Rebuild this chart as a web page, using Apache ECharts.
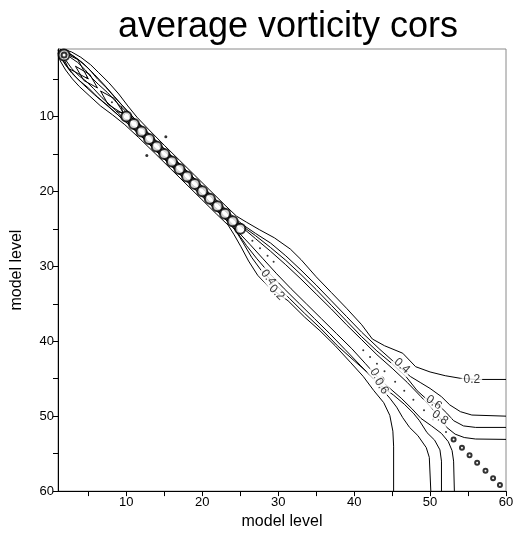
<!DOCTYPE html>
<html>
<head>
<meta charset="utf-8">
<title>average vorticity cors</title>
<script src="https://cdn.jsdelivr.net/npm/echarts@6/dist/echarts.min.js"></script>
<style>
html, body { margin: 0; padding: 0; background: #fff; }
#main { width: 520px; height: 535px; }
</style>
</head>
<body>
<div id="main"></div>
<script>
// contour lines, as [x level, y level]
// "up" = right of the diagonal, "lo" = left of it
var up02 = [[1.6,1],[2.8,1.4],[4,2.1],[5.3,3.1],[6.3,4.1],[7.7,5.5],[9,7],[10.2,8.6],[11.4,10.1],[13,11.8],[15,13.85],[17,15.85],[19,17.85],[21,19.85],[23,21.85],[24.5,23.3],
  [25.8,24.1],[27.5,25.1],[29.5,26.2],[31.6,27.7],[33,29.1],[35,31.4],[37,33.5],[39,35.6],[41,37.8],[42.4,39.7],[44,40.6],[46.4,41.6],[48.1,43.4],[50,44.1],[52,44.6],[54,44.95],[56,45.1],[60,45.1]];
var up04 = [[1.2,1],[2.3,1.5],[3.5,2.3],[4.8,3.4],[5.8,4.4],[7.1,5.8],[8.4,7.3],[9.7,8.8],[11,10.2],[12.6,11.9],[14.5,13.8],[16.5,15.8],[18.5,17.8],[20.5,19.8],[22.5,21.8],[24.2,23.5],
  [25.4,24.5],[27,25.6],[29,26.9],[31,28.6],[33,30.5],[35,32.5],[37,34.6],[39,36.7],[41,38.8],[43.4,41.1],[45.4,42.9],[47.4,44.7],[48.7,45.5],[50,46.3],[51.5,47.4],[52.6,48.5],[54,49.4],[55.5,49.85],[60,50]];
var up06 = [[2,1.3],[3,1.9],[4.2,2.8],[5.2,3.8],[6.2,5],[7.4,6.2],[8.6,7.6],[9.8,8.9],[11,10.3],[12.7,12.1],[14.6,14],[16.6,16],[18.6,18],[20.6,20],[22.6,22],[24.2,23.7],
  [25.5,24.8],[27,25.9],[29,27.5],[31,29.2],[33,31.1],[35,33.1],[37,35.2],[39,37.3],[41,39.4],[43,41.3],[45,43],[46.9,44.8],[48.3,46.6],[49.4,47.6],[50.4,48.2],[51.4,48.8],[52.2,49.6],[53.1,50.6],[54.4,51.3],[56,51.5],[60,51.5]];
var up08 = [[2.6,2.1],[3.6,2.8],[4.6,3.8],[5.3,4.7],[6.3,5.7],[7.5,6.8],[8.7,8.1],[9.9,9.3],[11.2,10.7],[12.8,12.3],[14.5,14.1],[16.5,16.1],[18.5,18.1],[20.5,20.1],[22.5,22.1],[24.3,23.9],
  [25.6,25.1],[27,26.3],[29,28],[31,29.8],[33,31.7],[35,33.7],[37,35.7],[39,37.8],[41,39.8],[43,41.8],[45,43.6],[47,45.5],[48.8,47.4],[50.2,48.9],[51.3,50.2],[52.2,51.5],[53.3,52.4],[54.5,52.85],[56,53.05],[60,53.1]];

var lo02 = [[1,1.5],[1.3,2.6],[2,3.8],[2.9,5],[3.8,6],[5.2,7.3],[6.6,8.6],[8.2,9.8],[9.8,11.1],[11.6,12.8],[13.85,15],[15.85,17],[17.85,19],[19.85,21],[21.85,23],[23.4,24.5],
  [24.2,25.8],[25.1,27.4],[26.1,29.3],[27.3,31.2],[28.8,32.8],[31.3,34.6],[33.5,36.8],[35.5,38.6],[37.5,40.6],[39.5,42.8],[41.2,44.7],[42.6,46.6],[43.9,48.2],[44.7,49.9],[45.1,52],[45.2,54],[45.2,60]];
var lo04 = [[1,1.2],[1.5,2.3],[2.3,3.5],[3.4,4.8],[4.4,5.8],[5.8,7.1],[7.3,8.4],[8.8,9.7],[10.2,11],[11.9,12.6],[13.8,14.5],[15.8,16.5],[17.8,18.5],[19.8,20.5],[21.8,22.5],[23.5,24.2],
  [24.5,25.4],[25.4,26.9],[26.5,28.8],[27.8,30.6],[29.5,32.3],[31.5,34.3],[33.5,36.3],[35.6,38.3],[37.8,40.6],[40,42.6],[41.8,44.2],[43.5,46.2],[44.7,47.6],[45.6,48.8],[46.4,50.2],[47.3,51.5],[48.4,52.6],[49.5,54.2],[49.9,55.5],[50.1,60]];
var lo06 = [[1.3,2],[1.9,3],[2.8,4.2],[3.8,5.2],[5,6.2],[6.2,7.4],[7.6,8.6],[8.9,9.8],[10.3,11],[12.1,12.7],[14,14.6],[16,16.6],[18,18.6],[20,20.6],[22,22.6],[23.7,24.2],
  [24.7,25.6],[25.8,27.2],[27.2,29],[28.9,31],[30.8,33],[32.8,35],[34.8,37],[36.8,39],[38.8,41.1],[40.8,43.2],[42.5,45],[43.6,46],[45.2,47.2],[46.6,48.4],[47.8,49.6],[48.6,50.6],[49.6,52.2],[50.6,53.2],[51.3,54.5],[51.5,56],[51.5,60]];
var lo08 = [[2.1,2.6],[2.8,3.6],[3.8,4.6],[4.7,5.3],[5.7,6.3],[6.8,7.5],[8.1,8.7],[9.3,9.9],[10.7,11.2],[12.3,12.8],[14.1,14.5],[16.1,16.5],[18.1,18.5],[20.1,20.5],[22.1,22.5],[23.9,24.3],
  [25,25.7],[26.3,27.1],[28,29],[29.8,31],[31.7,33],[33.7,35],[35.7,37],[37.7,39],[39.7,41],[41.5,43],[43,44.7],[44.6,46.2],[46.2,47.6],[47.6,49],[48.8,50.3],[50.2,51.3],[51.5,52.3],[52.4,53.4],[52.9,54.6],[53.1,56],[53.2,60]];

// crossing lines between the rings along the diagonal
var zigA = [[9.35,8.65],[9.65,10.35],[11.35,10.65],[11.65,12.35],[13.35,12.65],[13.65,14.35],[15.35,14.65],[15.65,16.35],[17.35,16.65],[17.65,18.35],[19.35,18.65],[19.65,20.35],[21.35,20.65],[21.65,22.35],[23.35,22.65],[23.65,24.35],[25.35,24.65]];
var zigB = [[8.65,9.35],[10.35,9.65],[10.65,11.35],[12.35,11.65],[12.65,13.35],[14.35,13.65],[14.65,15.35],[16.35,15.65],[16.65,17.35],[18.35,17.65],[18.65,19.35],[20.35,19.65],[20.65,21.35],[22.35,21.65],[22.65,23.35],[24.35,23.65],[24.65,25.35]];
// closed shapes in the wide part near the top
var diamondA = [[3.3,3.3],[5.2,4.4],[6.2,6.2],[4.4,5.2],[3.3,3.3]];
var diamondB = [[6.6,6.6],[8.4,7.6],[9.8,9.8],[7.6,8.4],[6.6,6.6]];
var diamondC = [[1.2,1.2],[3.6,2.4],[5,5],[2.4,3.6],[1.2,1.2]];

// rings and dots on the diagonal (model level)
var bigRings = [1.8];
var diagRings = [10,11,12,13,14,15,16,17,18,19,20,21,22,23,24,25];
var lowRings = [53.1,54.2,55.2,56.2,57.3,58.3,59.2];
var diagDots = [4.8,8.1,26.6,27.6,28.6,29.4,41.2,42.1,43,44,45.4,46.6,47.8,49.2,50.4,52.1];
var strayDots = [[15.2,12.7],[12.7,15.2]];

// contour labels: x, y, text, angle
var contourLabels = [[55.5,45.1,'0.2',0],[46.3,43.3,'0.4',-42],[50.5,48.2,'0.6',-35],[51.3,50.2,'0.8',-35],
  [28.7,31.5,'0.4',-52],[29.8,33.5,'0.2',-45],[43,44.7,'0.8',-58],[43.6,46,'0.6',-58]];

var ticks = [5,10,15,20,25,30,35,40,45,50,55,60];
var tickLabels = [10,20,30,40,50,60];

var font = 'Liberation Sans, Arial, Helvetica, sans-serif';
var myChart = echarts.init(document.getElementById('main'));

function contour(pts) {
  return {
    type: 'line',
    data: pts,
    symbol: 'none',
    showSymbol: false,
    silent: true,
    z: 2,
    lineStyle: { color: '#000', width: 1 }
  };
}

function diag(list) {
  return list.map(function(v) { return [v, v]; });
}

var series = [];
[up02, up04, up06, up08, lo02, lo04, lo06, lo08, zigA, zigB, diamondA, diamondB, diamondC].forEach(function(pts) {
  series.push(contour(pts));
});

series.push({
  type: 'scatter', silent: true, z: 4,
  symbol: 'emptyCircle', symbolSize: 11,
  itemStyle: { color: '#000', borderWidth: 1.5 },
  data: diag(bigRings)
});
series.push({
  type: 'scatter', silent: true, z: 5,
  symbol: 'emptyCircle', symbolSize: 5,
  itemStyle: { color: '#000', borderWidth: 1.2 },
  data: diag(bigRings)
});
// heavy rings: several close contours crowd round each diagonal point
series.push({
  type: 'scatter', silent: true, z: 4,
  symbol: 'emptyCircle', symbolSize: 10,
  itemStyle: { color: '#000', borderWidth: 2.8 },
  data: diag(diagRings)
});
series.push({
  type: 'scatter', silent: true, z: 4,
  symbol: 'emptyCircle', symbolSize: 4,
  itemStyle: { color: '#000', borderWidth: 1 },
  data: diag(lowRings)
});
series.push({
  type: 'scatter', silent: true, z: 4,
  symbol: 'circle', symbolSize: 2,
  itemStyle: { color: '#000' },
  data: diag(diagDots)
});
series.push({
  type: 'scatter', silent: true, z: 4,
  symbol: 'circle', symbolSize: 3,
  itemStyle: { color: '#000' },
  data: strayDots
});
series.push({
  type: 'scatter', silent: true, z: 6,
  symbolSize: 0,
  data: contourLabels.map(function(l) {
    return {
      value: [l[0], l[1]],
      label: { rotate: l[3] },
      name: l[2]
    };
  }),
  label: {
    show: true,
    position: 'inside',
    formatter: function(p) { return p.name; },
    color: '#000',
    fontFamily: font,
    fontSize: 12,
    backgroundColor: '#fff',
    padding: [0, 2]
  }
});

var option = {
  animation: false,
  backgroundColor: '#fff',
  title: {
    text: 'average vorticity cors',
    left: 283,
    top: 4,
    textAlign: 'center',
    textStyle: { fontFamily: font, fontSize: 36, fontWeight: 'normal', color: '#000' }
  },
  grid: {
    left: 58, right: 14, top: 49, bottom: 39,
    show: true, borderColor: '#8a8a8a', borderWidth: 1
  },
  xAxis: {
    type: 'value', min: 1, max: 60,
    name: 'model level', nameLocation: 'middle', nameGap: 22,
    nameTextStyle: { fontFamily: font, fontSize: 16, color: '#000' },
    axisLine: { lineStyle: { color: '#000', width: 1 } },
    axisTick: { show: true, length: 5, customValues: ticks, lineStyle: { color: '#000' } },
    axisLabel: { customValues: tickLabels, fontFamily: font, fontSize: 13, color: '#000', margin: 5 },
    splitLine: { show: false }
  },
  yAxis: {
    type: 'value', min: 1, max: 60, inverse: true,
    name: 'model level', nameLocation: 'middle', nameGap: 33,
    nameTextStyle: { fontFamily: font, fontSize: 16, color: '#000' },
    axisLine: { show: true, lineStyle: { color: '#000', width: 1 } },
    axisTick: { show: true, length: 5, customValues: ticks, lineStyle: { color: '#000' } },
    axisLabel: { customValues: tickLabels, fontFamily: font, fontSize: 13, color: '#000', margin: 4 },
    splitLine: { show: false }
  },
  series: series
};

myChart.setOption(option);
</script>
</body>
</html>
